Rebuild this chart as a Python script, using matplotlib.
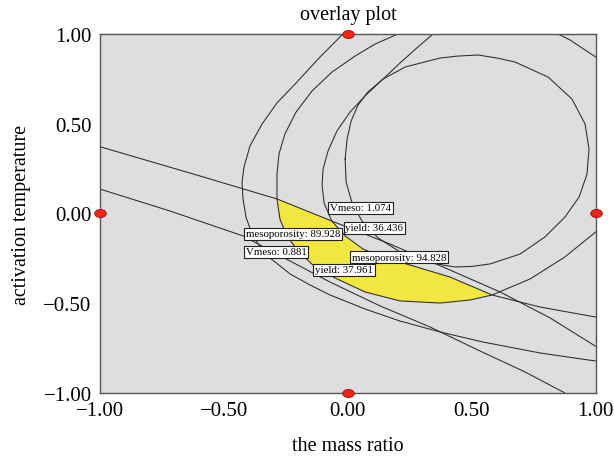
import numpy as np
import matplotlib
matplotlib.use('Agg')
import matplotlib.pyplot as plt
from matplotlib.path import Path

plt.rcParams['font.family'] = ['Liberation Serif', 'DejaVu Serif']

# contour lines (coded factors)
line_a_x = [-1.000, -0.597, -0.286, -0.065, 0.170, 0.384, 0.614, 0.816, 1.000]
line_a_y = [0.372, 0.209, 0.081, -0.042, -0.170, -0.298, -0.437, -0.582, -0.740]

line_b_x = [-1.000, -0.718, -0.423, -0.233, -0.072, 0.130, 0.331, 0.533, 0.715, 0.876]
line_b_y = [0.136, 0.014, -0.125, -0.265, -0.382, -0.515, -0.632, -0.766, -0.883, -1.000]

outer_x = [-0.020, -0.112, -0.213, -0.286, -0.346, -0.395, -0.419, -0.427, -0.423, -0.411,
           -0.387, -0.354, -0.314, -0.233, -0.153, -0.072, 0.069, 0.210, 0.372, 0.545,
           0.775, 1.000]
outer_y = [1.000, 0.872, 0.721, 0.616, 0.499, 0.376, 0.259, 0.175, 0.081, -0.020,
           -0.114, -0.187, -0.248, -0.337, -0.398, -0.454, -0.532, -0.599, -0.660, -0.716,
           -0.777, -0.822]

mid_x = [0.344, 0.283, 0.210, 0.142, 0.069, 0.009, -0.044, -0.080, -0.100, -0.104,
         -0.096, -0.065, -0.011, 0.061, 0.150, 0.251, 0.412, 0.582, 0.775, 1.000]
mid_y = [1.000, 0.928, 0.838, 0.749, 0.655, 0.565, 0.460, 0.348, 0.248, 0.159,
         0.058, -0.042, -0.125, -0.198, -0.248, -0.287, -0.354, -0.454, -0.521, -0.577]

ell_x = [0.202, 0.110, 0.029, -0.064, -0.145, -0.209, -0.254, -0.278, -0.286, -0.286,
         -0.274, -0.246, -0.201, -0.141, -0.052, 0.069, 0.210, 0.372, 0.493, 0.582,
         0.735, 0.876, 1.000]
ell_y = [1.000, 0.944, 0.877, 0.788, 0.682, 0.565, 0.443, 0.331, 0.220, 0.081,
         -0.031, -0.125, -0.209, -0.287, -0.359, -0.437, -0.487, -0.499, -0.482, -0.454,
         -0.365, -0.242, -0.103]
ell_top_x = [0.848, 0.896, 0.945, 1.000]
ell_top_y = [1.000, 0.967, 0.922, 0.872]

ring_x = [-0.011, -0.003, 0.013, 0.041, 0.081, 0.142, 0.231, 0.372, 0.444, 0.525,
          0.602, 0.674, 0.808, 0.904, 0.957, 0.973, 0.965, 0.933, 0.876, 0.795,
          0.695, 0.574, 0.501, 0.432, 0.311, 0.210, 0.122, 0.057, 0.017, -0.007,
          -0.011]
ring_y = [0.304, 0.415, 0.515, 0.604, 0.677, 0.749, 0.816, 0.866, 0.877, 0.883,
          0.866, 0.844, 0.760, 0.638, 0.499, 0.359, 0.220, 0.092, -0.020, -0.131,
          -0.226, -0.281, -0.295, -0.298, -0.270, -0.214, -0.136, -0.042, 0.058, 0.175,
          0.304]

# flags
flag_text = ['Vmeso: 1.074', 'yield: 36.436', 'mesoporosity: 89.928',
             'Vmeso: 0.881', 'mesoporosity: 94.828', 'yield: 37.961']
flag_x = [-0.072, -0.011, -0.413, -0.411, 0.015, -0.133]
flag_y = [0.031, -0.080, -0.114, -0.213, -0.244, -0.314]

# design points
pts_x = [0.0, 0.0, -1.0, 1.0]
pts_y = [1.0, -1.0, 0.0, 0.0]

ticks = [-1.0, -0.5, 0.0, 0.5, 1.0]
tick_labels = ['\u22121.00', '\u22120.50', '0.00', '0.50', '1.00']

fig = plt.figure(figsize=(6.14, 4.64), dpi=100)
ax = fig.add_axes([0.1629, 0.1509, 0.8073, 0.7737])
ax.set_facecolor('#dedee0')

# sweet spot: below line A, under the mid curve, inside the ellipse
poly_x = np.concatenate([line_a_x[2:4], mid_x[12:18], ell_x[9:20][::-1]])
poly_y = np.concatenate([line_a_y[2:4], mid_y[12:18], ell_y[9:20][::-1]])
ax.fill(poly_x, poly_y, color='#f2e640', lw=0, zorder=1)

lc = '#2a2a2a'
for xs, ys in [(line_a_x, line_a_y), (line_b_x, line_b_y), (outer_x, outer_y),
               (mid_x, mid_y), (ell_x, ell_y), (ell_top_x, ell_top_y), (ring_x, ring_y)]:
    ax.plot(xs, ys, color=lc, lw=0.75, zorder=2, solid_joinstyle='round')

for t, x, y in zip(flag_text, flag_x, flag_y):
    ax.text(x, y, t, fontsize=7.8, ha='left', va='center', zorder=4,
            bbox=dict(boxstyle='square,pad=0.15', fc='white', ec='#222222', lw=0.8))

circ = Path.unit_circle()
dot = Path(circ.vertices * [1.0, 0.7], circ.codes)
ax.scatter(pts_x, pts_y, marker=dot, s=70, c='#e8261a', edgecolors='#a01008',
           linewidths=0.6, zorder=5, clip_on=False)

ax.set_xlim(-1, 1)
ax.set_ylim(-1, 1)
ax.set_xticks(ticks)
ax.set_yticks(ticks)
ax.set_xticklabels(tick_labels)
ax.set_yticklabels(tick_labels)
ax.tick_params(length=0, labelsize=15, pad=6)
for s in ax.spines.values():
    s.set_color('#555555')
    s.set_linewidth(1.0)

ax.set_xlabel('the mass ratio', fontsize=14.5, labelpad=11)
ax.set_ylabel('activation temperature', fontsize=14.5, labelpad=9)
ax.set_title('overlay plot', fontsize=14.5, pad=11)

fig.savefig('out.png', dpi=100)
